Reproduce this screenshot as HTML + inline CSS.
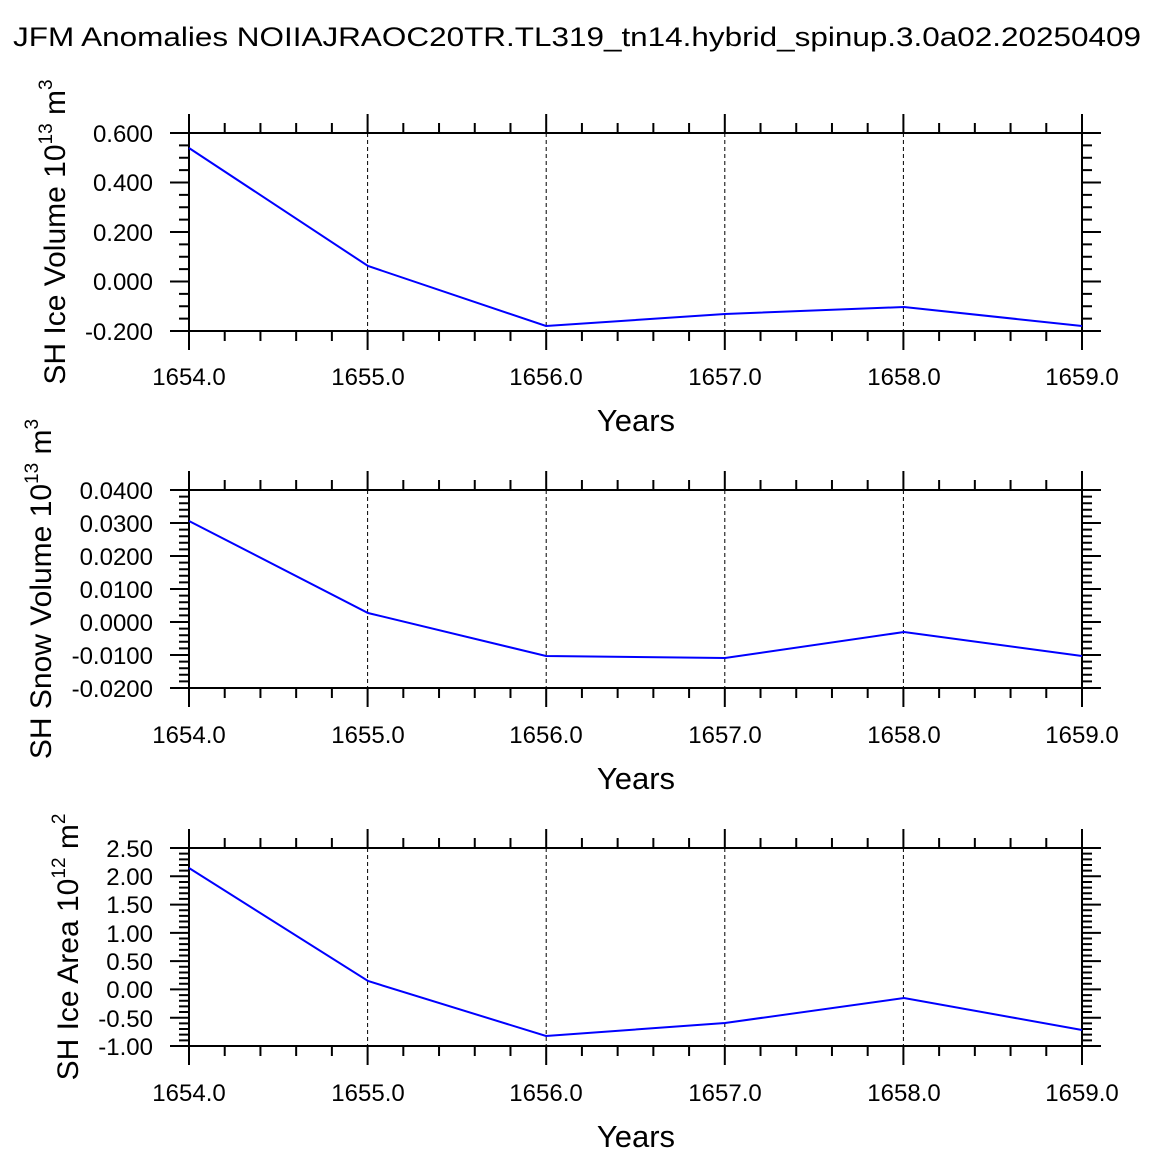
<!DOCTYPE html>
<html><head><meta charset="utf-8"><style>
html,body{margin:0;padding:0;background:#fff;}
svg{display:block;font-family:"Liberation Sans",Arial,sans-serif;}
</style></head><body>
<svg id="s" width="1154" height="1152" xmlns="http://www.w3.org/2000/svg">
<text x="577" y="46" font-size="27" text-anchor="middle" textLength="1128" lengthAdjust="spacingAndGlyphs">JFM Anomalies NOIIAJRAOC20TR.TL319_tn14.hybrid_spinup.3.0a02.20250409</text>
<g id="g" stroke="#000" fill="none"></g>
<g font-size="24" text-anchor="end">
<text x="153" y="142">0.600</text><text x="153" y="191">0.400</text><text x="153" y="241">0.200</text><text x="153" y="290">0.000</text><text x="153" y="340">-0.200</text>
<text x="153" y="499">0.0400</text><text x="153" y="532">0.0300</text><text x="153" y="565">0.0200</text><text x="153" y="598">0.0100</text><text x="153" y="631">0.0000</text><text x="153" y="664">-0.0100</text><text x="153" y="697">-0.0200</text>
<text x="153" y="857">2.50</text><text x="153" y="885">2.00</text><text x="153" y="913">1.50</text><text x="153" y="942">1.00</text><text x="153" y="970">0.50</text><text x="153" y="998">0.00</text><text x="153" y="1027">-0.50</text><text x="153" y="1055">-1.00</text>
</g>
<g font-size="24" text-anchor="middle">
<text x="189" y="385">1654.0</text><text x="368" y="385">1655.0</text><text x="546" y="385">1656.0</text><text x="725" y="385">1657.0</text><text x="904" y="385">1658.0</text><text x="1082" y="385">1659.0</text>
<text x="189" y="743">1654.0</text><text x="368" y="743">1655.0</text><text x="546" y="743">1656.0</text><text x="725" y="743">1657.0</text><text x="904" y="743">1658.0</text><text x="1082" y="743">1659.0</text>
<text x="189" y="1101">1654.0</text><text x="368" y="1101">1655.0</text><text x="546" y="1101">1656.0</text><text x="725" y="1101">1657.0</text><text x="904" y="1101">1658.0</text><text x="1082" y="1101">1659.0</text>
</g>
<g font-size="31" text-anchor="middle">
<text x="636" y="431">Years</text><text x="636" y="789">Years</text><text x="636" y="1147">Years</text>
</g>
<g font-size="30" text-anchor="middle">
<text transform="translate(65,232) rotate(-90)">SH Ice Volume 10<tspan font-size="19" dy="-13">13</tspan><tspan dy="13"> m</tspan><tspan font-size="19" dy="-13">3</tspan></text>
<text transform="translate(51,589) rotate(-90)">SH Snow Volume 10<tspan font-size="19" dy="-13">13</tspan><tspan dy="13"> m</tspan><tspan font-size="19" dy="-13">3</tspan></text>
<text transform="translate(78,947) rotate(-90)">SH Ice Area 10<tspan font-size="19" dy="-13">12</tspan><tspan dy="13"> m</tspan><tspan font-size="19" dy="-13">2</tspan></text>
</g>
<g fill="none" stroke="#0000ff" stroke-width="2">
<polyline points="189,148 368,266 546,326 725,314 904,307 1082,326"/>
<polyline points="189,521 368,613 546,656 725,658 904,632 1082,656"/>
<polyline points="189,868 368,981 546,1036 725,1023 904,998 1082,1030"/>
</g>
</svg>
<script>
var g=document.getElementById('g');var d='';var dash='';
var X0=189,X1=1082,xs=(X1-X0)/5;
var plots=[[133,331,4,16],[490,688,6,30],[848,1046,7,35]];
plots.forEach(function(p){var T=p[0],B=p[1];
 d+='M'+X0+' '+T+'H'+X1+'V'+B+'H'+X0+'Z';
 for(var i=0;i<=5;i++){var x=X0+i*xs;d+='M'+x+' '+(T-19)+'V'+T+'M'+x+' '+B+'V'+(B+19);
  if(i>0&&i<5)dash+='M'+x+' '+T+'V'+B;
  if(i<5)for(var k=1;k<5;k++){var xm=x+k*xs/5;d+='M'+xm+' '+(T-10)+'V'+T+'M'+xm+' '+B+'V'+(B+10);}}
 var h=B-T;
 for(var j=0;j<=p[2];j++){var y=T+j*h/p[2];d+='M'+(X0-19)+' '+y+'H'+X0+'M'+X1+' '+y+'H'+(X1+19);}
 for(var j=0;j<=p[3];j++){var y=T+j*h/p[3];d+='M'+(X0-10)+' '+y+'H'+X0+'M'+X1+' '+y+'H'+(X1+10);}
});
g.innerHTML='<path d="'+d+'" stroke-width="2"/><path d="'+dash+'" stroke-width="1" stroke-dasharray="4,3"/>';
</script>
</body></html>
